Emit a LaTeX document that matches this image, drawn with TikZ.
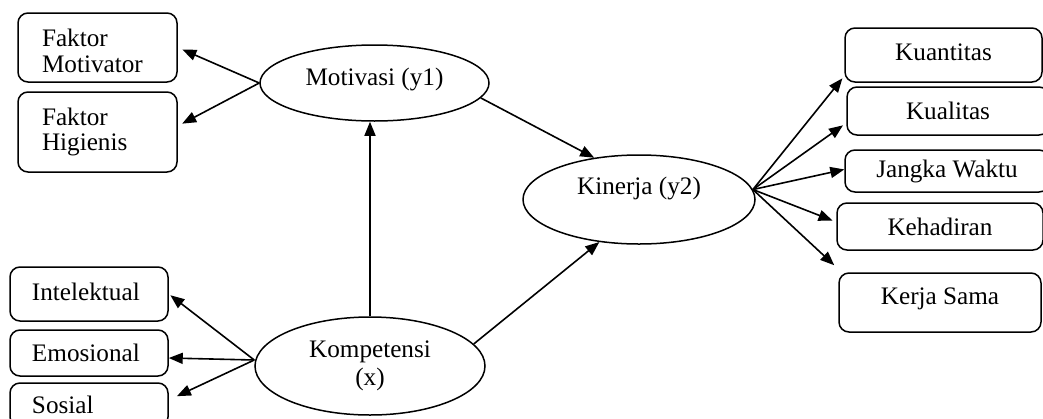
\documentclass[tikz,border=0pt]{standalone}
\usepackage{fontspec}
\setmainfont{Liberation Serif}
\usetikzlibrary{arrows.meta,shapes.geometric}

\begin{document}
\begin{tikzpicture}[x=0.5pt,y=-0.5pt,font=\fontsize{12.6}{12.8}\selectfont,
    kotak/.style={draw,rounded corners=5pt,line width=0.75pt,inner sep=0pt},
    elips/.style={draw,ellipse,line width=0.75pt,inner sep=0pt},
    panah/.style={line width=0.8pt,-{Triangle[length=7pt,width=5.5pt]}}]
    \clip (0,0) rectangle (1043,418);

    % variabel laten
    \node[elips,minimum width=114.5pt,minimum height=38pt] (motivasi) at (374.5,83) {\raisebox{6pt}{Motivasi (y1)}};
    \node[elips,minimum width=115pt,minimum height=49pt,align=center] (kompetensi) at (370,366) {Kompetensi\\[1.5pt](x)};
    \node[elips,minimum width=116pt,minimum height=44.5pt] (kinerja) at (639,199.5) {\raisebox{14pt}{Kinerja (y2)}};

    % indikator kiri
    \node[kotak,minimum width=79.5pt,minimum height=34.5pt,text width=55.5pt,align=left] (motivator) at (97.5,47.5) {\rule{0pt}{12pt}Faktor\\Motivator};
    \node[kotak,minimum width=79.5pt,minimum height=40pt,text width=55.5pt,align=left] (higienis) at (97.5,132) {Faktor\\Higienis};
    \node[kotak,minimum width=79pt,minimum height=27pt,text width=57pt,align=left] (intelektual) at (89,294) {\raisebox{2pt}{Intelektual}};
    \node[kotak,minimum width=79pt,minimum height=23pt,text width=57pt,align=left] (emosional) at (89,353) {Emosional};
    \node[kotak,minimum width=79pt,minimum height=22pt,text width=57pt,align=left] (sosial) at (89,405) {Sosial};

    % indikator kanan
    \node[kotak,minimum width=98.5pt,minimum height=27pt] (kuantitas) at (943.5,55) {\raisebox{3pt}{Kuantitas}};
    \node[kotak,minimum width=101pt,minimum height=24pt] (kualitas) at (948,111) {Kualitas};
    \node[kotak,minimum width=102pt,minimum height=21pt] (jangka) at (947,171) {Jangka Waktu};
    \node[kotak,minimum width=103pt,minimum height=23.5pt] (kehadiran) at (940,226.5) {Kehadiran};
    \node[kotak,minimum width=101pt,minimum height=29.5pt] (kerjasama) at (940,302.5) {\raisebox{6.5pt}{Kerja Sama}};

    % panah
    \draw[panah,shorten >=2.5pt] (motivasi.west) -- (motivator.east);
    \draw[panah,shorten >=2.5pt] (motivasi.west) -- ([yshift=3pt]higienis.east);
    \draw[panah,shorten >=1pt] ([yshift=3pt]kompetensi.west) -- (intelektual.east);
    \draw[panah] ([yshift=3pt]kompetensi.west) -- ([yshift=-2.5pt]emosional.east);
    \draw[panah,shorten >=4.5pt] ([yshift=3pt]kompetensi.west) -- ([yshift=2.5pt]sosial.east);
    \draw[panah] (kompetensi.north) -- (kompetensi.north |- motivasi.south);
    \draw[panah] (motivasi.-8) -- (kinerja.137);
    \draw[panah] (kompetensi.12) -- (kinerja.227);
    \draw[panah,shorten >=1.5pt] (kinerja.5) -- ([yshift=-10.5pt]kuantitas.west);
    \draw[panah,shorten >=2pt] (kinerja.5) -- ([yshift=-6pt]kualitas.west);
    \draw[panah,shorten >=1pt] (kinerja.5) -- ([yshift=1pt]kualitas.west |- jangka.west);
    \draw[panah,shorten >=2pt] (kinerja.5) -- ([yshift=2.25pt]kehadiran.west);
    \draw[panah] (kinerja.5) -- ([xshift=-2pt,yshift=3.5pt]kerjasama.north west);
\end{tikzpicture}
\end{document}
